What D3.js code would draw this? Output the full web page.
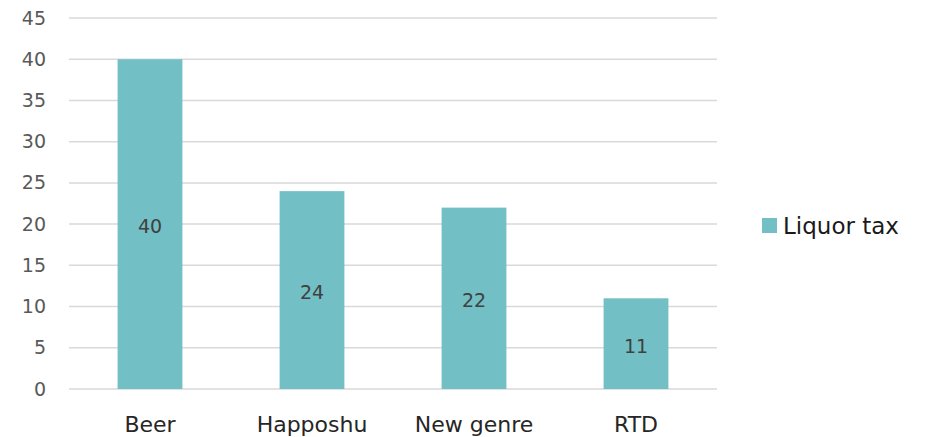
<!DOCTYPE html>
<html><head><meta charset="utf-8">
<script src="https://cdn.jsdelivr.net/npm/d3@7"></script>
<style>body{margin:0;background:#fff}svg{display:block}text{font-family:"DejaVu Sans",Verdana,sans-serif}</style>
</head><body><svg id="c" width="929" height="437"></svg>
<script>
const categories = ["Beer", "Happoshu", "New genre", "RTD"];
const liquorTax = [40, 24, 22, 11];
const yTicks = [0, 5, 10, 15, 20, 25, 30, 35, 40, 45];
const seriesName = "Liquor tax";

const svg = d3.select("#c");
const color = "#72BFC5";
const x = d3.scaleBand().domain(categories).range([69, 717]).paddingInner(0.6).paddingOuter(0.3);
const y = d3.scaleLinear().domain([0, 45]).range([389, 18]);

// gridlines
svg.append("g").selectAll("line").data(yTicks).join("line")
  .attr("x1", 69).attr("x2", 717)
  .attr("y1", d => y(d)).attr("y2", d => y(d))
  .attr("stroke", "#d9d9d9").attr("stroke-width", 1.5);

// y tick labels
const yAxis = d3.axisLeft(y).tickValues(yTicks).tickSize(0).tickPadding(0);
const ya = svg.append("g").attr("transform", "translate(46,0)").call(yAxis);
ya.select(".domain").remove();
ya.selectAll("text").attr("font-size", 19).attr("fill", "#595959")
  .attr("font-family", "DejaVu Sans, Verdana, sans-serif");

// bars
svg.append("g").selectAll("rect").data(liquorTax).join("rect")
  .attr("x", (d, i) => x(categories[i]))
  .attr("width", x.bandwidth())
  .attr("y", d => y(d))
  .attr("height", d => y(0) - y(d))
  .attr("fill", color);

// data labels
svg.append("g").selectAll("text").data(liquorTax).join("text")
  .attr("x", (d, i) => x(categories[i]) + x.bandwidth() / 2)
  .attr("y", d => (y(d) + y(0)) / 2)
  .attr("dy", "0.48em")
  .attr("text-anchor", "middle")
  .attr("font-size", 19).attr("fill", "#404040")
  .text(d => d);

// x axis labels
const xAxis = d3.axisBottom(x).tickSize(0).tickPadding(0);
const xa = svg.append("g").attr("transform", "translate(0,416)").call(xAxis);
xa.select(".domain").remove();
xa.selectAll("text").attr("font-size", 22).attr("fill", "#262626")
  .attr("font-family", "DejaVu Sans, Verdana, sans-serif").attr("dy", "0.72em");

// legend
const lg = svg.append("g");
lg.append("rect").attr("x", 762).attr("y", 218).attr("width", 15).attr("height", 15).attr("fill", color);
lg.append("text").attr("x", 783).attr("y", 225.5).attr("dy", "0.36em")
  .attr("font-size", 23).attr("fill", "#1a1a1a").text(seriesName);
</script></body></html>
